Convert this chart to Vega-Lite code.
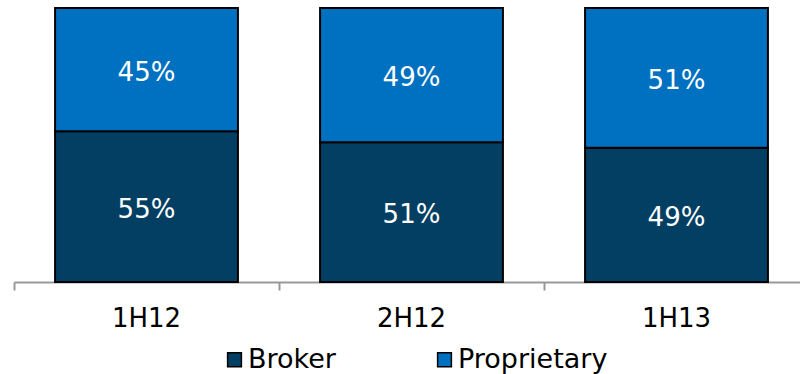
{
  "$schema": "https://vega.github.io/schema/vega-lite/v6.json",
  "width": 795,
  "height": 274,
  "autosize": "none",
  "padding": {"left": 14, "top": 8, "right": 0, "bottom": 92},
  "config": {"view": {"stroke": null}, "font": "DejaVu Sans"},
  "data": {
    "values": [
      {"period": "1H12", "type": "Broker", "value": 0.55},
      {"period": "1H12", "type": "Proprietary", "value": 0.45},
      {"period": "2H12", "type": "Broker", "value": 0.51},
      {"period": "2H12", "type": "Proprietary", "value": 0.49},
      {"period": "1H13", "type": "Broker", "value": 0.49},
      {"period": "1H13", "type": "Proprietary", "value": 0.51}
    ]
  },
  "encoding": {
    "x": {
      "field": "period",
      "type": "nominal",
      "sort": ["1H12", "2H12", "1H13"],
      "scale": {"paddingInner": 0.31, "paddingOuter": 0.155},
      "axis": {
        "title": null,
        "labelAngle": 0,
        "labelFontSize": 26,
        "labelColor": "#000",
        "domainColor": "#999",
        "domainWidth": 2,
        "tickColor": "#999",
        "tickWidth": 2,
        "tickSize": 8,
        "bandPosition": -0.224,
        "labelPadding": 15
      }
    }
  },
  "layer": [
    {
      "mark": {"type": "bar", "stroke": "#000", "strokeWidth": 2},
      "encoding": {
        "y": {"field": "value", "type": "quantitative", "stack": "zero", "scale": {"domain": [0, 1]}, "axis": null},
        "color": {
          "field": "type",
          "type": "nominal",
          "scale": {"domain": ["Broker", "Proprietary"], "range": ["#033f62", "#0070c0"]},
          "legend": {
            "title": null,
            "orient": "none",
            "legendX": 207,
            "legendY": 338,
            "padding": 0,
            "direction": "horizontal",
            "symbolType": "square",
            "symbolSize": 190,
            "symbolStrokeColor": "#000",
            "symbolStrokeWidth": 1.5,
            "labelFontSize": 27,
            "labelColor": "#000",
            "columnPadding": 95,
            "labelOffset": 0
          }
        },
        "order": {"field": "type", "type": "ordinal", "sort": "ascending"}
      }
    },
    {
      "transform": [
        {"stack": "value", "groupby": ["period"], "sort": [{"field": "type", "order": "ascending"}], "as": ["v0", "v1"]},
        {"calculate": "(datum.v0 + datum.v1) / 2", "as": "mid"}
      ],
      "mark": {"type": "text", "color": "white", "fontSize": 26, "dy": 3},
      "encoding": {
        "y": {"field": "mid", "type": "quantitative", "scale": {"domain": [0, 1]}, "axis": null},
        "text": {"field": "value", "type": "quantitative", "format": ".0%"}
      }
    }
  ]
}
